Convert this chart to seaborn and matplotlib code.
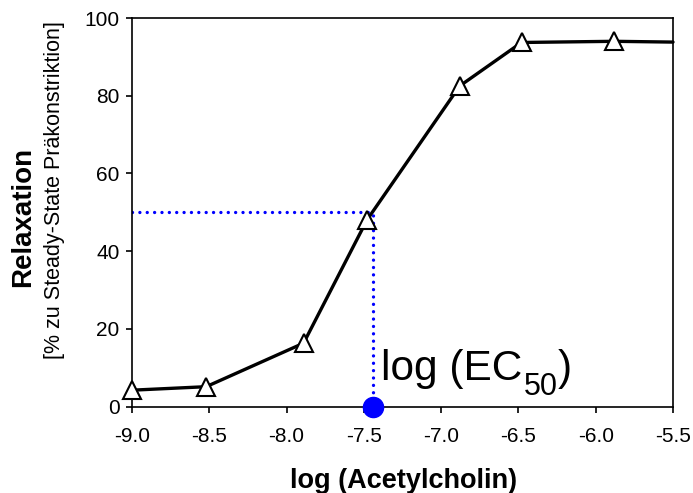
import matplotlib
matplotlib.use("Agg")
import matplotlib.pyplot as plt
import seaborn as sns
import pandas as pd
from matplotlib import font_manager

# Data
log_ach = [-9.0, -8.52, -7.89, -7.48, -6.88, -6.48, -5.88]
relaxation = [4.2, 5.1, 16.3, 48.0, 82.5, 93.7, 94.0]
tail_x = [-5.88, -5.5]
tail_y = [94.0, 93.8]
ec50_x = -7.44
ec50_y = 50.0
xticks = [-9.0, -8.5, -8.0, -7.5, -7.0, -6.5, -6.0, -5.5]
yticks = [0, 20, 40, 60, 80, 100]

sns.set_style("ticks")
plt.rcParams['font.family'] = ['Liberation Sans', 'DejaVu Sans']
plt.rcParams['axes.unicode_minus'] = False
plt.rcParams['text.color'] = 'black'
plt.rcParams['xtick.color'] = 'black'
plt.rcParams['ytick.color'] = 'black'
plt.rcParams['axes.labelcolor'] = 'black'

names = {f.name for f in font_manager.fontManager.ttflist}
narrow = 'Liberation Sans Narrow' if 'Liberation Sans Narrow' in names else None

fig = plt.figure(figsize=(6.93, 4.93), dpi=100)
ax = fig.add_axes([132/693, 1-406.5/493, (673-132)/693, (406.5-18)/493])

df = pd.DataFrame({"x": log_ach, "y": relaxation})
df_tail = pd.DataFrame({"x": tail_x, "y": tail_y})

# EC50 guide lines
ax.plot([-9.0, ec50_x], [ec50_y, ec50_y], color="#0000FF", lw=2.4,
        linestyle=(0, (0.01, 2.2)), dash_capstyle="round", zorder=2)
ax.plot([ec50_x, ec50_x], [0, ec50_y], color="#0000FF", lw=2.4,
        linestyle=(0, (0.01, 2.2)), dash_capstyle="round", zorder=2)

sns.lineplot(data=df_tail, x="x", y="y", ax=ax, color="black", lw=2.4,
             zorder=3, clip_on=False)
sns.lineplot(data=df, x="x", y="y", ax=ax, color="black", lw=2.4,
             marker="^", markersize=13.5, markerfacecolor="white",
             markeredgecolor="black", markeredgewidth=1.5, zorder=4,
             clip_on=False)

ax.plot([ec50_x], [0], marker="o", markersize=14.5, color="#0000FF",
        clip_on=False, zorder=5)

t1 = ax.text(ec50_x + 0.05, 6.8, "log (EC", fontsize=30.5,
             ha="left", va="baseline", color="black")
t2 = ax.annotate("50", xy=(1, 0), xycoords=t1, xytext=(1, -4.4),
                 textcoords="offset points", fontsize=22, ha="left",
                 va="baseline", color="black")
t3 = ax.annotate(")", xy=(1, 0), xycoords=(t2, t1), xytext=(0.5, 0),
                 textcoords="offset points", fontsize=30.5, ha="left",
                 va="bottom", color="black")

ax.set_xlim(-9.0, -5.5)
ax.set_ylim(0, 100)
ax.set_xticks(xticks)
ax.set_xticklabels([f"{v:.1f}" for v in xticks])
ax.set_yticks(yticks)
ax.set_yticklabels([str(v) for v in yticks])
ax.tick_params(axis="both", direction="out", length=4, width=1.2,
               labelsize=15, colors="black")
ax.tick_params(axis="x", pad=11)
ax.tick_params(axis="y", pad=5)
for s in ax.spines.values():
    s.set_visible(True)
    s.set_color("black")
    s.set_linewidth(1.2)

ax.set_xlabel("")
ax.set_ylabel("")
fig.text(404/693, 1-481/493, "log (Acetylcholin)", fontsize=19.5,
         fontweight="bold", ha="center", va="center")
fig.text(23/693, 1-217/493, "Relaxation", fontsize=20, fontweight="bold",
         rotation=90, ha="center", va="center")
if narrow:
    fig.text(55/693, 1-190/493, "[% zu Steady-State Präkonstriktion]",
             fontsize=18.5, family=[narrow, 'Liberation Sans'],
             rotation=90, ha="center", va="center")
else:
    fig.text(55/693, 1-190/493, "[% zu Steady-State Präkonstriktion]",
             fontsize=15.5, rotation=90, ha="center", va="center")

fig.savefig("out.png", dpi=100, facecolor="white")
